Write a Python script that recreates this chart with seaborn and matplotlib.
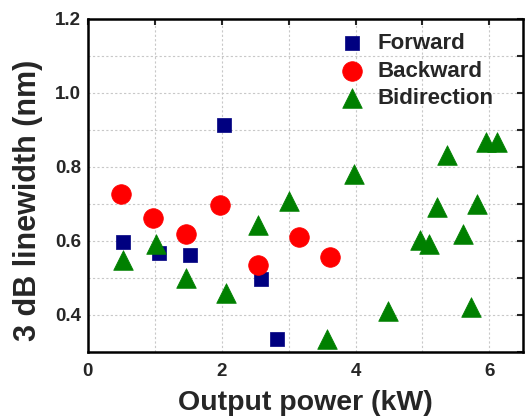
import matplotlib
matplotlib.use('Agg')
import matplotlib.pyplot as plt
import numpy as np
import pandas as pd
import seaborn as sns

# Forward pumping
fwd_power = [0.53, 1.06, 1.52, 2.04, 2.59, 2.82]
fwd_width = [0.596, 0.567, 0.563, 0.912, 0.496, 0.334]

# Backward pumping
bwd_power = [0.49, 0.97, 1.46, 1.98, 2.54, 3.15, 3.62]
bwd_width = [0.728, 0.663, 0.619, 0.696, 0.536, 0.611, 0.556]

# Bidirectional pumping
bid_power = [0.53, 1.02, 1.46, 2.06, 2.55, 3.01, 3.58, 3.97, 4.49, 4.97,
             5.10, 5.21, 5.36, 5.61, 5.72, 5.82, 5.95, 6.11]
bid_width = [0.549, 0.592, 0.500, 0.460, 0.644, 0.708, 0.336, 0.780, 0.412, 0.603,
             0.592, 0.692, 0.832, 0.620, 0.421, 0.699, 0.868, 0.868]

fwd = pd.DataFrame({'power': fwd_power, 'width': fwd_width})
bwd = pd.DataFrame({'power': bwd_power, 'width': bwd_width})
bid = pd.DataFrame({'power': bid_power, 'width': bid_width})

sns.set_style('white')
plt.rcParams['font.family'] = ['Liberation Sans', 'DejaVu Sans']
plt.rcParams['font.weight'] = 'bold'

fig = plt.figure(figsize=(5.26, 4.19), dpi=100)
ax = fig.add_axes([0.167, 0.160, 0.827, 0.795])

sns.scatterplot(data=fwd, x='power', y='width', marker='s', s=115, color='#000080',
                edgecolor='#000080', linewidth=0.5, label='Forward', ax=ax, zorder=3)
sns.scatterplot(data=bwd, x='power', y='width', marker='o', s=200, color='#ff0000',
                edgecolor='#ff0000', linewidth=0.5, label='Backward', ax=ax, zorder=3)
sns.scatterplot(data=bid, x='power', y='width', marker='^', s=200, color='#008000',
                edgecolor='#008000', linewidth=0.5, label='Bidirection', ax=ax, zorder=3)

ax.set_xlim(0, 6.5)
ax.set_ylim(0.3, 1.2)
ax.set_xticks([0, 2, 4, 6])
ax.set_xticks(np.arange(0, 6.5, 1), minor=True)
ax.set_yticks([0.4, 0.6, 0.8, 1.0, 1.2])
ax.set_yticks(np.arange(0.3, 1.21, 0.1), minor=True)
ax.set_yticklabels(['0.4', '0.6', '0.8', '1.0', '1.2'])

ax.grid(True, which='both', color='#c8c8c8', linestyle=(0, (2, 2)), linewidth=0.8)
ax.tick_params(which='both', direction='in', top=True, right=True, width=1.5, length=4,
               labelsize=13.5)
ax.tick_params(axis='x', pad=8)
ax.tick_params(axis='y', pad=5)
for side in ax.spines.values():
    side.set_linewidth(1.8)
    side.set_color('black')

ax.set_xlabel('Output power (kW)', fontsize=20.5, fontweight='bold', labelpad=7)
ax.set_ylabel('3 dB linewidth (nm)', fontsize=22, fontweight='bold')
ax.yaxis.set_label_coords(-0.104, 0.455)

ax.legend(loc='upper left', bbox_to_anchor=(0.535, 1.01), frameon=False, fontsize=16,
          handletextpad=0.55, labelspacing=0.28, borderaxespad=0.4, handlelength=1.2)

fig.savefig('out.png', dpi=100)
